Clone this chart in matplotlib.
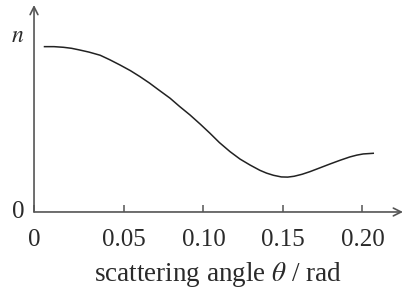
import numpy as np
import matplotlib.pyplot as plt

# scattering angle (rad) and relative intensity n
theta = [0.000, 0.006, 0.012, 0.017, 0.022, 0.028, 0.035, 0.041, 0.0475,
         0.054, 0.060, 0.066, 0.0716, 0.079, 0.085, 0.0915, 0.098, 0.1041,
         0.110, 0.1167, 0.123, 0.1293, 0.1355, 0.1397, 0.144, 0.149, 0.153,
         0.157, 0.162, 0.167, 0.173, 0.1795, 0.186, 0.1921, 0.1965, 0.2005,
         0.2068]
n_vals = [1.000, 1.000, 0.996, 0.990, 0.980, 0.967, 0.948, 0.921, 0.889,
          0.855, 0.819, 0.780, 0.740, 0.688, 0.638, 0.587, 0.531, 0.476,
          0.420, 0.365, 0.320, 0.284, 0.252, 0.235, 0.222, 0.212, 0.211,
          0.216, 0.228, 0.244, 0.266, 0.290, 0.313, 0.333, 0.344, 0.351,
          0.355]

tick_pos = [0.05, 0.10, 0.15, 0.20]
tick_labels = ["0.05", "0.10", "0.15", "0.20"]

plt.rcParams['font.family'] = ['Liberation Serif', 'DejaVu Serif']
plt.rcParams['mathtext.fontset'] = 'stix'

fig = plt.figure(figsize=(4.05, 2.93), dpi=100)
ax = fig.add_axes([0.084, 0.2765, 0.911, 0.7065])

x0, x1 = -0.0066, 0.2255
ax.set_xlim(x0, x1)
ax.set_ylim(0, 1.252)

txtcol = '#2a2a2a'
axcol = '#555555'

ax.plot(theta, n_vals, color='#222222', lw=1.1, solid_joinstyle='round')

for s in ax.spines.values():
    s.set_visible(False)

ax.annotate('', xy=(1.0, 0), xytext=(0, 0), xycoords='axes fraction',
            arrowprops=dict(arrowstyle='->', color=axcol, lw=1.2,
                            shrinkA=0, shrinkB=0, mutation_scale=14))
ax.annotate('', xy=(0, 1.0), xytext=(0, 0), xycoords='axes fraction',
            arrowprops=dict(arrowstyle='->', color=axcol, lw=1.2,
                            shrinkA=0, shrinkB=0, mutation_scale=14))

ax.set_xticks([x0] + tick_pos)
ax.set_xticklabels(["0"] + tick_labels, fontsize=18, color=txtcol)
ax.tick_params(axis='x', direction='in', length=5, width=1.1, color=axcol, pad=12)
ax.set_yticks([])

ax.text(-0.042, 0, "0", transform=ax.get_yaxis_transform(), ha='center',
        va='center', fontsize=18, color=txtcol)
ax.text(-0.045, 1.06, "$n$", transform=ax.get_yaxis_transform(), ha='center',
        va='center', fontsize=17, color=txtcol)

ax.set_xlabel(r"scattering angle $\theta$ / rad", fontsize=19.5,
              color=txtcol, labelpad=7)

fig.savefig("out.png", dpi=100)
